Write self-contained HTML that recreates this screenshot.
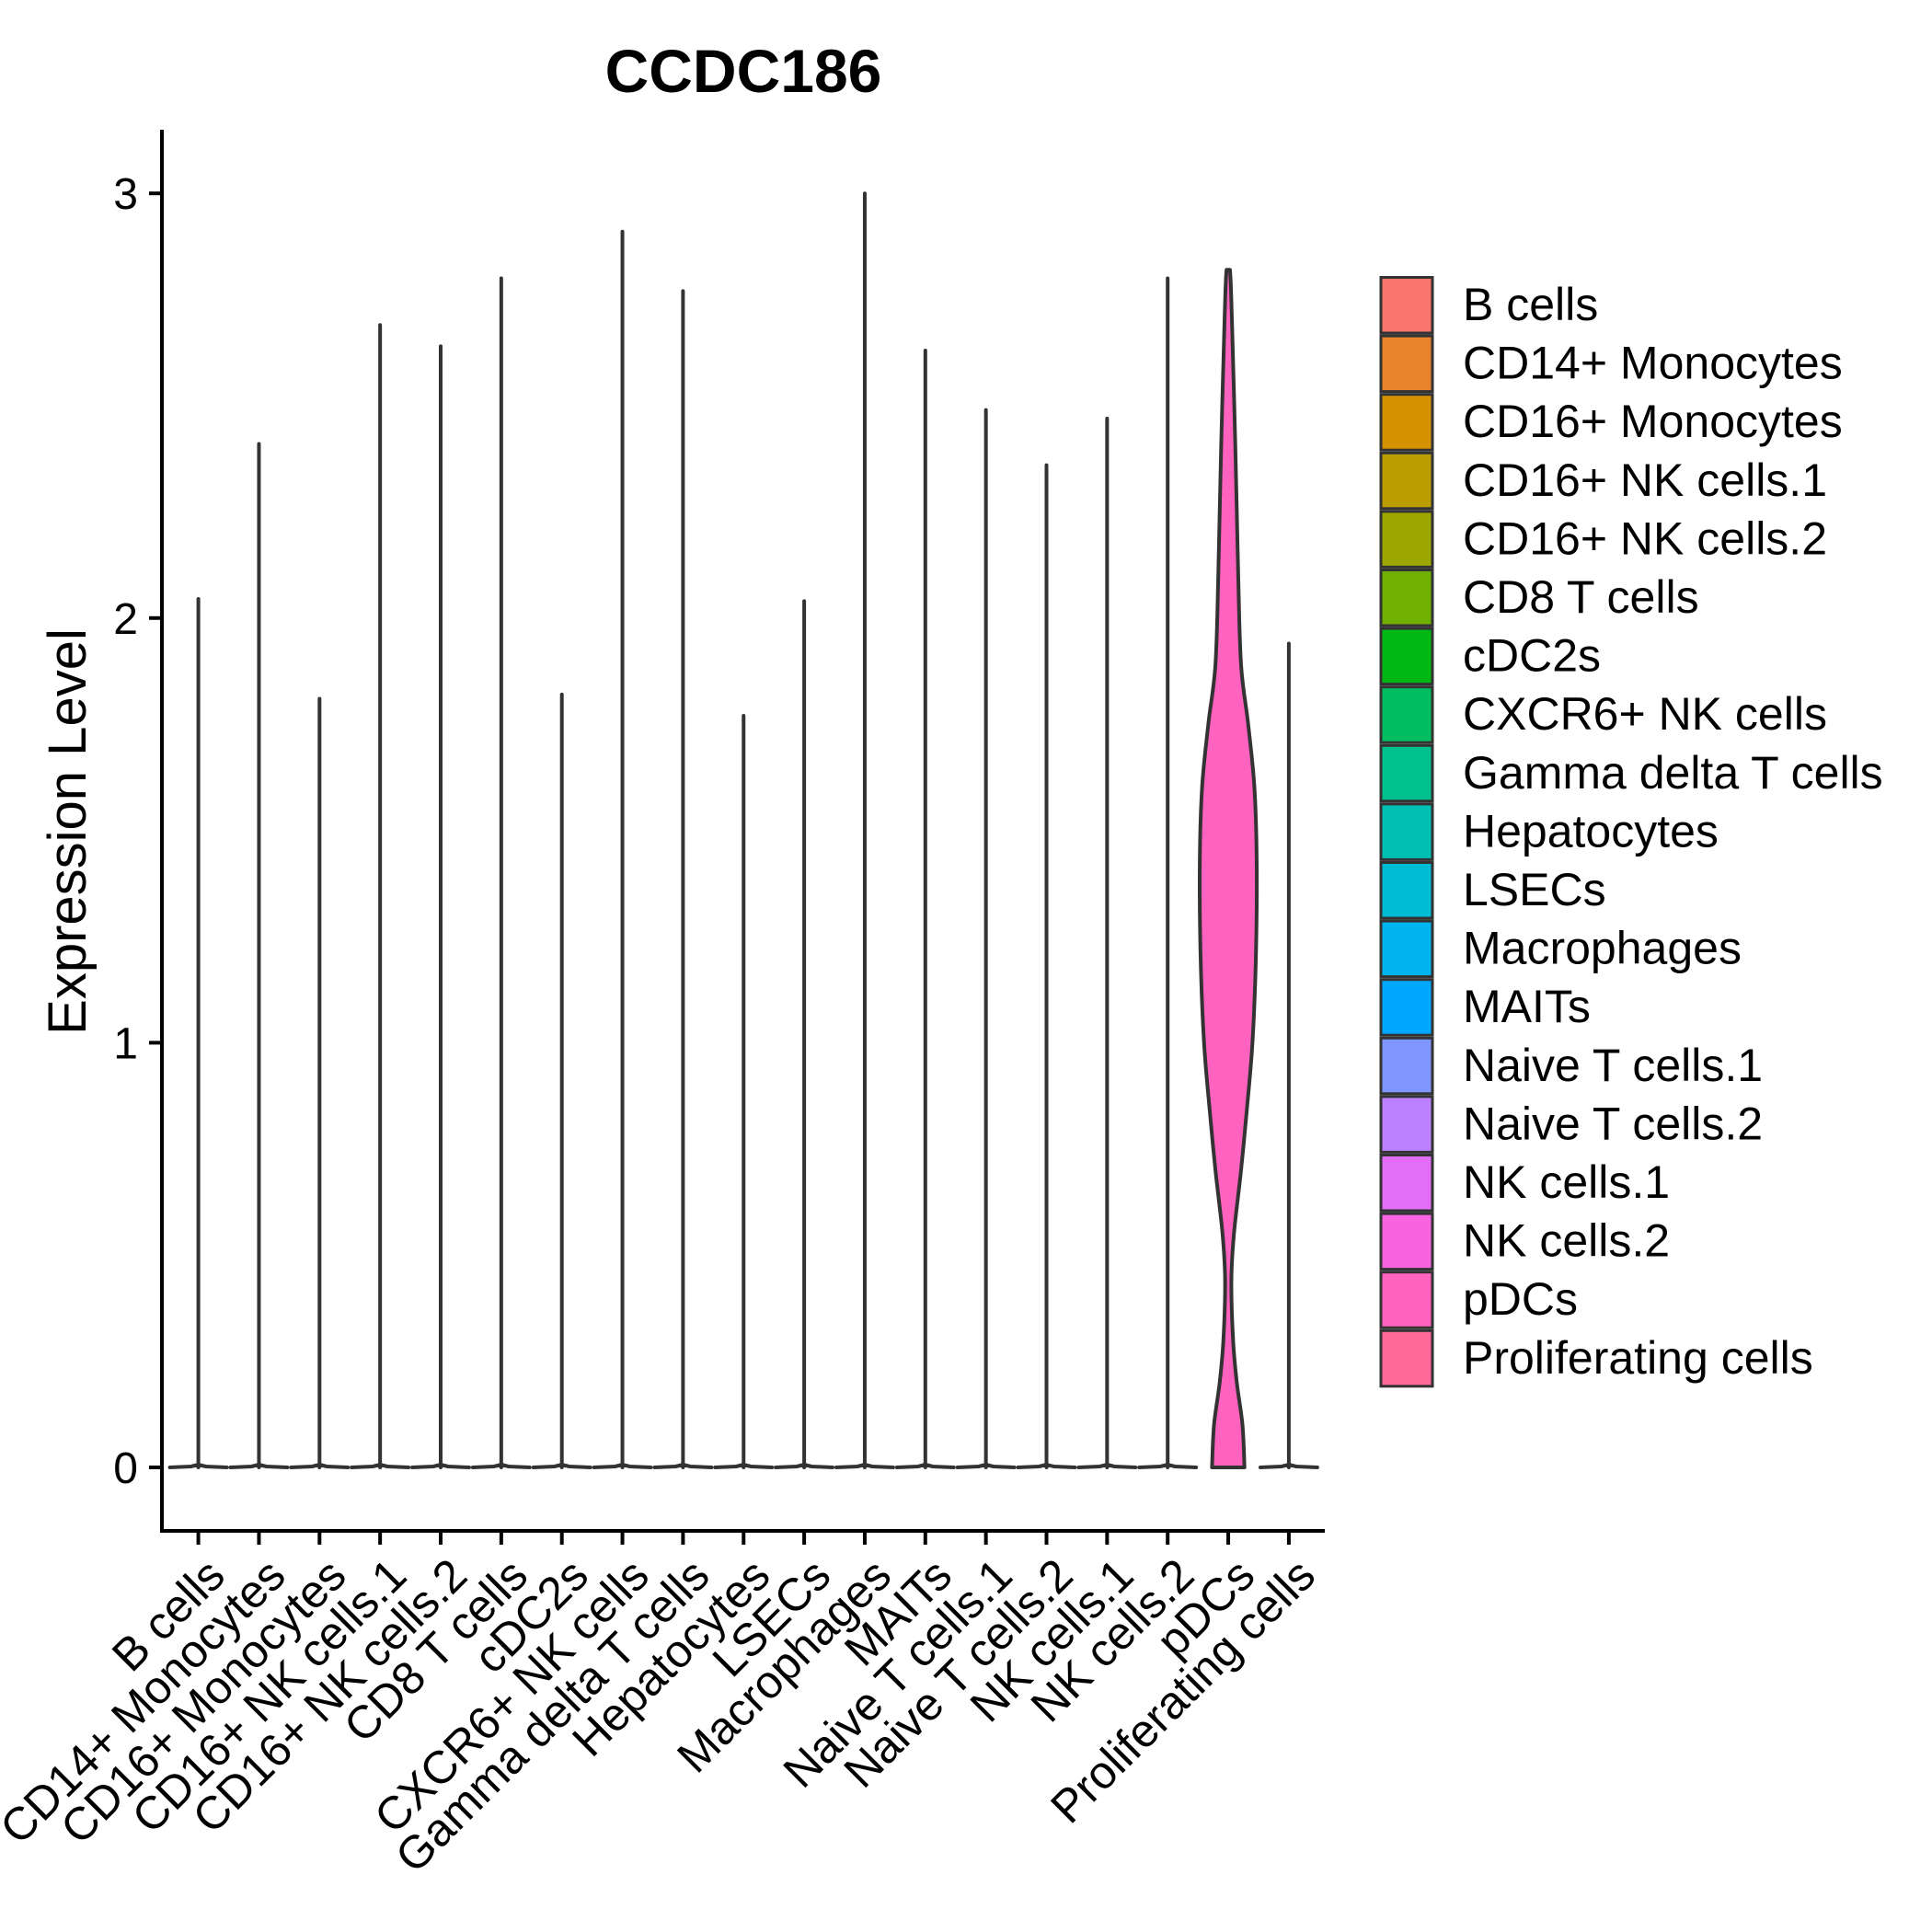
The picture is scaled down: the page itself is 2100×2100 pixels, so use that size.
<!DOCTYPE html>
<html><head><meta charset="utf-8"><style>
html,body{margin:0;padding:0;background:#fff}
svg{display:block}
text{font-family:"Liberation Sans",Arial,sans-serif}
</style></head><body>
<svg id="chart" width="2100" height="2100" viewBox="0 0 2100 2100" xmlns="http://www.w3.org/2000/svg">
<text x="808" y="100" text-anchor="middle" font-size="66" font-weight="bold">CCDC186</text>
<text transform="translate(93,904) rotate(-90)" text-anchor="middle" font-size="58">Expression Level</text>
<g id="plot"></g>
<g id="legend"></g>
</svg>
<script>
const categories = ["B cells","CD14+ Monocytes","CD16+ Monocytes","CD16+ NK cells.1","CD16+ NK cells.2","CD8 T cells","cDC2s","CXCR6+ NK cells","Gamma delta T cells","Hepatocytes","LSECs","Macrophages","MAITs","Naive T cells.1","Naive T cells.2","NK cells.1","NK cells.2","pDCs","Proliferating cells"];
const maxValues = [2.045,2.41,1.81,2.69,2.64,2.80,1.82,2.91,2.77,1.77,2.04,3.00,2.63,2.49,2.36,2.47,2.80,2.82,1.94];
const colors = ["#F8766D","#E9842C","#D69100","#BC9D00","#9CA700","#6FB000","#00B813","#00BD61","#00C08E","#00C0B4","#00BDD4","#00B5EE","#00A7FF","#7F96FF","#BC81FF","#E26EF7","#F863DF","#FF62BF","#FF6A9A"];
const yTicks = [0,1,2,3];
const pdcLevels = [0,0.1,0.2,0.3,0.44,0.55,0.7,0.84,1.0,1.2,1.42,1.6,1.75,1.89,2.1,2.4,2.7,2.82];
const pdcWidths = [0.57,0.5,0.3,0.17,0.11,0.2,0.45,0.65,0.85,0.97,1.0,0.92,0.7,0.45,0.35,0.25,0.13,0.06];

const NS="http://www.w3.org/2000/svg";
const X0=215.6, STEP=65.85, Y0=1595, UNIT=461.6;
const xs=i=>X0+i*STEP;
const ys=v=>Y0-v*UNIT;
const HW=0.47*STEP;
function mk(tag,attrs,parent){const e=document.createElementNS(NS,tag);for(const k in attrs)e.setAttribute(k,attrs[k]);parent.appendChild(e);return e;}
const plot=document.getElementById('plot');

const yAxis=mk('line',{x1:176,y1:141,x2:176,y2:1666,stroke:'#000','stroke-width':4},plot);


const xAxis=mk('line',{x1:174,y1:1664,x2:1440,y2:1664,stroke:'#000','stroke-width':4},plot);



yTicks.forEach(t=>{
  const tk=mk('line',{x1:162,y1:ys(t),x2:176,y2:ys(t),stroke:'#000','stroke-width':4},plot);
  
  
  const lb=mk('text',{x:150,y:ys(t)+17,'text-anchor':'end','font-size':48},plot);
  
  
  lb.textContent=String(t);
});

categories.forEach((c,i)=>{
  const x=xs(i);
  const tk=mk('line',{x1:x,y1:1664,x2:x,y2:1679,stroke:'#000','stroke-width':4},plot);
  
  
  const ax=x+6, ay=1690;
  const lb=mk('text',{x:ax,y:ay,dy:'0.72em','text-anchor':'end','font-size':50,transform:`rotate(-45 ${ax} ${ay})`},plot);
  
  
  lb.textContent=c;
});

categories.forEach((c,i)=>{
  const x=xs(i);
  if(c==="pDCs"){
    const top=maxValues[i];
    let L=[],R=[];
    pdcLevels.forEach((lv,k)=>{const v=Math.min(lv,top);const w=pdcWidths[k]*HW;L.push([x-w,ys(v)]);R.push([x+w,ys(v)]);});
    const pts=R.concat(L.reverse());
    let d=`M${pts[0][0]},${pts[0][1]}`;
    for(let k=0;k<pts.length-1;k++){
      const p0=pts[Math.max(k-1,0)],p1=pts[k],p2=pts[k+1],p3=pts[Math.min(k+2,pts.length-1)];
      if(k===R.length-1){d+=` L${p2[0]},${p2[1]}`;continue;}
      const c1=[p1[0]+(p2[0]-p0[0])/6,p1[1]+(p2[1]-p0[1])/6];
      const c2=[p2[0]-(p3[0]-p1[0])/6,p2[1]-(p3[1]-p1[1])/6];
      d+=` C${c1[0]},${c1[1]} ${c2[0]},${c2[1]} ${p2[0]},${p2[1]}`;
    }
    d+=' Z';
    const p=mk('path',{d:d,fill:colors[i],stroke:'#333','stroke-width':4,'stroke-linejoin':'round'},plot);
    
    
  } else {
    const g=mk('g',{},plot);
    
    
    mk('line',{x1:x,y1:ys(0),x2:x,y2:ys(maxValues[i]),stroke:'#333','stroke-width':4,'stroke-linecap':'round'},g);
    mk('path',{d:`M${x-HW},${ys(0)} L${x-8},${ys(0)-1} L${x},${ys(0)-3} L${x+8},${ys(0)-1} L${x+HW},${ys(0)}`,fill:'#333',stroke:'#333','stroke-width':4,'stroke-linecap':'round','stroke-linejoin':'round'},g);
  }
});

const leg=document.getElementById('legend');
categories.forEach((c,i)=>{
  const y=300+i*63.6;
  const r=mk('rect',{x:1501,y:y+1.5,width:56,height:60.5,fill:colors[i],stroke:'#333','stroke-width':3},leg);
  
  
  const t=mk('text',{x:1590,y:y+48,'font-size':50},leg);
  
  
  t.textContent=c;
});
</script>
</body></html>
